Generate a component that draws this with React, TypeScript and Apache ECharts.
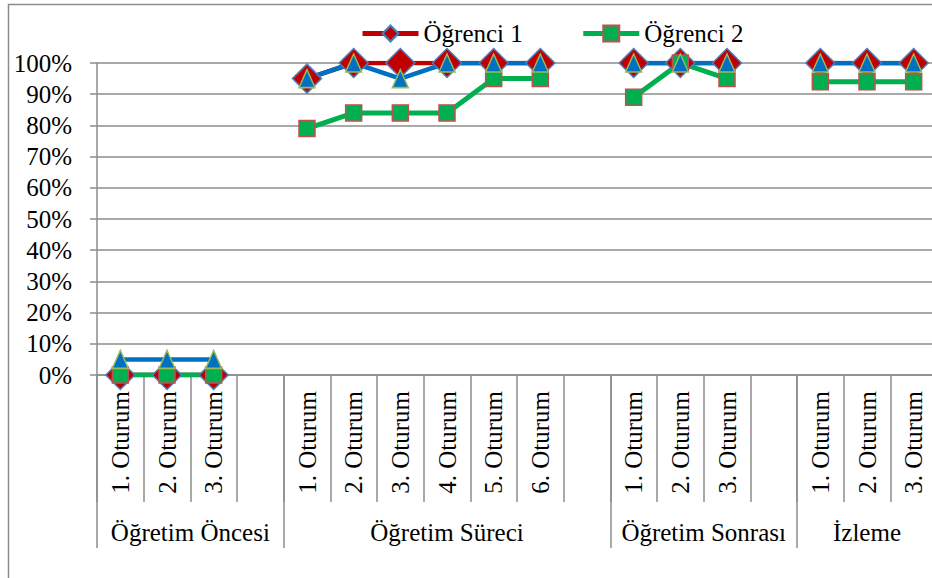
import React, { useEffect, useRef } from "react";
import * as echarts from "echarts";

const groups = ["Öğretim Öncesi", "Öğretim Süreci", "Öğretim Sonrası", "İzleme"];
const groupSizes = [4, 7, 4, 3];
const sessionLabels = [
  "1. Oturum", "2. Oturum", "3. Oturum", "",
  "1. Oturum", "2. Oturum", "3. Oturum", "4. Oturum", "5. Oturum", "6. Oturum", "",
  "1. Oturum", "2. Oturum", "3. Oturum", "",
  "1. Oturum", "2. Oturum", "3. Oturum",
];
const ogrenci1 = [0, 0, 0, null, 95, 100, 100, 100, 100, 100, null, 100, 100, 100, null, 100, 100, 100];
const ogrenci2 = [0, 0, 0, null, 79, 84, 84, 84, 95, 95, null, 89, 100, 95, null, 94, 94, 94];
const seri3 = [5, 5, 5, null, 95, 100, 95, 100, 100, 100, null, 100, 100, 100, null, 100, 100, 100];
const seriesNames = ["Öğrenci 1", "Öğrenci 2", "Seri 3"];

const FONT = "Liberation Serif";
const GRAY = "#8c8c8c";

export default function App() {
  const ref = useRef<HTMLDivElement>(null);
  useEffect(() => {
    if (!ref.current) return;
    const chart = echarts.init(ref.current, null, { renderer: "svg" });
    const cats = sessionLabels.map((_, i) => String(i));
    const starts: number[] = [];
    let acc = 0;
    groupSizes.forEach((s) => {
      starts.push(acc);
      acc += s;
    });
    chart.setOption({
      animation: false,
      textStyle: { fontFamily: FONT, color: "#000" },
      legend: {
        data: [seriesNames[0], seriesNames[1]],
        left: 355,
        top: 16,
        itemGap: 58,
        itemWidth: 56,
        itemHeight: 20,
        lineStyle: { width: 5 },
        textStyle: { fontFamily: FONT, fontSize: 25, color: "#000" },
      },
      grid: { left: 97, top: 63, width: 840, height: 312 },
      xAxis: [
        {
          type: "category",
          data: cats,
          position: "bottom",
          boundaryGap: true,
          axisLine: { show: true, lineStyle: { color: GRAY, width: 1.5 } },
          axisTick: { show: true, interval: 0, length: 127, lineStyle: { color: GRAY, width: 1.5 } },
          axisLabel: {
            interval: 0,
            rotate: 90,
            margin: 16,
            fontFamily: FONT,
            fontSize: 25,
            color: "#000",
            formatter: (_v: string, i: number) => sessionLabels[i],
          },
          splitLine: { show: false },
        },
        {
          type: "category",
          data: cats,
          position: "bottom",
          boundaryGap: true,
          axisLine: { show: false },
          axisTick: {
            show: true,
            length: 173,
            interval: (i: number) => starts.includes(i),
            lineStyle: { color: GRAY, width: 1.5 },
          },
          axisLabel: { show: false },
          splitLine: { show: false },
        },
      ],
      yAxis: {
        type: "value",
        min: 0,
        max: 100,
        interval: 10,
        axisLine: { show: true, lineStyle: { color: GRAY, width: 1.5 } },
        axisTick: { show: true, length: 7, lineStyle: { color: GRAY, width: 1.5 } },
        splitLine: { show: true, lineStyle: { color: GRAY, width: 1.5 } },
        axisLabel: {
          margin: 25,
          fontFamily: FONT,
          fontSize: 25,
          color: "#000",
          formatter: "{value}%",
        },
      },
      series: [
        {
          name: seriesNames[0],
          type: "line",
          data: ogrenci1,
          symbol: "diamond",
          symbolSize: 29,
          lineStyle: { color: "#C00000", width: 4.5 },
          itemStyle: { color: "#C00000", borderColor: "#4A7EBB", borderWidth: 1.5 },
        },
        {
          name: seriesNames[1],
          type: "line",
          data: ogrenci2,
          symbol: "rect",
          symbolSize: 16,
          lineStyle: { color: "#00B050", width: 5 },
          itemStyle: { color: "#00B050", borderColor: "#C0504D", borderWidth: 1.5 },
        },
        {
          name: seriesNames[2],
          type: "line",
          data: seri3,
          symbol: "triangle",
          symbolSize: [16, 18],
          lineStyle: { color: "#0070C0", width: 4.5 },
          itemStyle: { color: "#0070C0", borderColor: "#9BBB59", borderWidth: 1.5 },
        },
      ],
    });
    const graphics: any[] = [
      {
        type: "rect",
        silent: true,
        shape: { x: 8.5, y: 4.5, width: 1000, height: 700 },
        style: { fill: "none", stroke: GRAY, lineWidth: 1.5 },
      },
    ];
    groups.forEach((g, gi) => {
      const s = starts[gi];
      const e = s + groupSizes[gi] - 1;
      const x1 = chart.convertToPixel({ xAxisIndex: 0 }, s) as number;
      const x2 = chart.convertToPixel({ xAxisIndex: 0 }, e) as number;
      graphics.push({
        type: "text",
        silent: true,
        x: (x1 + x2) / 2,
        y: 532,
        style: {
          text: g,
          fontFamily: FONT,
          fontSize: 25,
          fill: "#000",
          align: "center",
          verticalAlign: "middle",
        },
      });
    });
    chart.setOption({ graphic: graphics });
    return () => chart.dispose();
  }, []);
  return (
    <div style={{ position: "absolute", left: 0, top: 0, width: 932, height: 578, overflow: "hidden" }}>
      <div ref={ref} style={{ position: "absolute", left: 0, top: 0, width: 980, height: 640 }} />
    </div>
  );
}
